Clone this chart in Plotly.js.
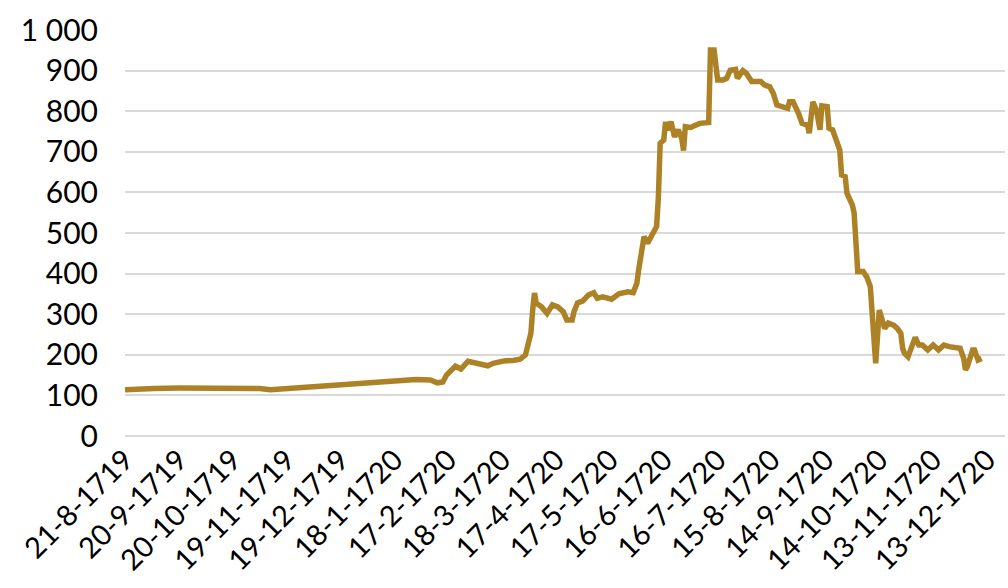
<!DOCTYPE html>
<html>
<head>
<meta charset="utf-8">
<script src="https://cdn.plot.ly/plotly-3.0.1.min.js"></script>
<style>
  html, body { margin: 0; padding: 0; background: #fff; }
  #chart { width: 1008px; height: 588px; }
</style>
</head>
<body>
<div id="chart"></div>
<script>
// share price
const dates = [
  '1719-08-21', '1719-08-29', '1719-09-06', '1719-09-20', '1719-10-05', '1719-10-20',
  '1719-11-04', '1719-11-10', '1719-11-17', '1719-11-29', '1719-12-08', '1719-12-17',
  '1719-12-26', '1720-01-05', '1720-01-14', '1720-01-23', '1720-01-30', '1720-02-07',
  '1720-02-11', '1720-02-14', '1720-02-16', '1720-02-21', '1720-02-24', '1720-02-28',
  '1720-03-04', '1720-03-10', '1720-03-13', '1720-03-19', '1720-03-24', '1720-03-28',
  '1720-03-31', '1720-04-01', '1720-04-03', '1720-04-04', '1720-04-05', '1720-04-06',
  '1720-04-09', '1720-04-12', '1720-04-15', '1720-04-18', '1720-04-21', '1720-04-23',
  '1720-04-26', '1720-04-27', '1720-04-29', '1720-05-02', '1720-05-05', '1720-05-08',
  '1720-05-10', '1720-05-13', '1720-05-18', '1720-05-22', '1720-05-27', '1720-05-30',
  '1720-05-31', '1720-06-01', '1720-06-02', '1720-06-04', '1720-06-05', '1720-06-07',
  '1720-06-10', '1720-06-12', '1720-06-13', '1720-06-14', '1720-06-16', '1720-06-17',
  '1720-06-18', '1720-06-20', '1720-06-22', '1720-06-24', '1720-06-26', '1720-06-27',
  '1720-06-28', '1720-07-01', '1720-07-03', '1720-07-06', '1720-07-11', '1720-07-12',
  '1720-07-14', '1720-07-16', '1720-07-19', '1720-07-21', '1720-07-23', '1720-07-26',
  '1720-07-27', '1720-07-30', '1720-08-01', '1720-08-04', '1720-08-09', '1720-08-11',
  '1720-08-14', '1720-08-16', '1720-08-18', '1720-08-21', '1720-08-24', '1720-08-25',
  '1720-08-27', '1720-08-30', '1720-09-01', '1720-09-04', '1720-09-05', '1720-09-07',
  '1720-09-09', '1720-09-11', '1720-09-12', '1720-09-15', '1720-09-16', '1720-09-18',
  '1720-09-20', '1720-09-22', '1720-09-23', '1720-09-25', '1720-09-26', '1720-09-29',
  '1720-09-30', '1720-10-01', '1720-10-02', '1720-10-05', '1720-10-07', '1720-10-09',
  '1720-10-10', '1720-10-12', '1720-10-14', '1720-10-17', '1720-10-19', '1720-10-22',
  '1720-10-24', '1720-10-26', '1720-10-27', '1720-10-28', '1720-10-30', '1720-11-01',
  '1720-11-03', '1720-11-05', '1720-11-07', '1720-11-10', '1720-11-13', '1720-11-16',
  '1720-11-19', '1720-11-22', '1720-11-28', '1720-11-30', '1720-12-01', '1720-12-02',
  '1720-12-05', '1720-12-06', '1720-12-08', '1720-12-10'
];
const prices = [
  114, 116, 117, 118, 118, 118,
  117, 114, 116, 119, 124, 126,
  129, 131, 133, 138, 139, 138,
  131, 133, 150, 172, 165, 184,
  180, 173, 179, 185, 186, 189,
  200, 222, 253, 310, 352, 327,
  318, 302, 323, 318, 306, 286,
  286, 306, 328, 333, 347, 353,
  339, 343, 337, 350, 355, 353,
  368, 376, 409, 454, 491, 475,
  503, 516, 589, 721, 729, 774,
  754, 774, 737, 754, 733, 703,
  762, 760, 764, 770, 772, 951,
  951, 877, 877, 881, 901, 903,
  881, 900, 893, 873, 873, 865,
  860, 844, 815, 811, 807, 823,
  823, 795, 770, 766, 746, 823,
  803, 754, 813, 811, 758, 754,
  729, 704, 643, 639, 598, 569,
  549, 442, 405, 405, 392, 368,
  302, 179, 310, 265, 278, 273,
  265, 253, 216, 204, 195, 216,
  243, 224, 224, 212, 224, 212,
  224, 220, 216, 191, 163, 171,
  212, 212, 187, 191
];

const lineColor = 'rgb(173, 130, 38)';
const gridColor = 'rgb(217, 217, 217)';
const fontFamily = 'Lato, "Open Sans", sans-serif';

var trace1 = {
    type: 'scatter',
    mode: 'lines',
    x: dates,
    y: prices,
    line: { color: lineColor, width: 5.5, shape: 'linear' },
    hoverinfo: 'x+y'
};

var layout = {
    width: 1008,
    height: 588,
    showlegend: false,
    separators: ', ',
    font: { family: fontFamily, size: 30, color: '#000' },
    margin: { l: 125, r: 3, t: 30, b: 152 },
    paper_bgcolor: '#fff',
    plot_bgcolor: '#fff',
    xaxis: {
        type: 'date',
        range: ['1719-08-21', '1720-12-23'],
        tick0: '1719-08-21',
        dtick: 30 * 86400000,
        tickformat: '%-d-%-m-%Y',
        tickangle: -45,
        showgrid: false,
        showline: false,
        zeroline: false,
        ticks: '',
        tickfont: { family: fontFamily, size: 29, color: '#000' }
    },
    yaxis: {
        range: [0, 1000],
        dtick: 100,
        separatethousands: true,
        showgrid: true,
        gridcolor: gridColor,
        gridwidth: 2,
        zeroline: true,
        zerolinecolor: gridColor,
        zerolinewidth: 2,
        showline: false,
        ticks: '',
        ticklabelstandoff: 26,
        tickfont: { family: fontFamily, size: 30, color: '#000' }
    }
};

Plotly.newPlot('chart', [trace1], layout, { staticPlot: true });
</script>
</body>
</html>
